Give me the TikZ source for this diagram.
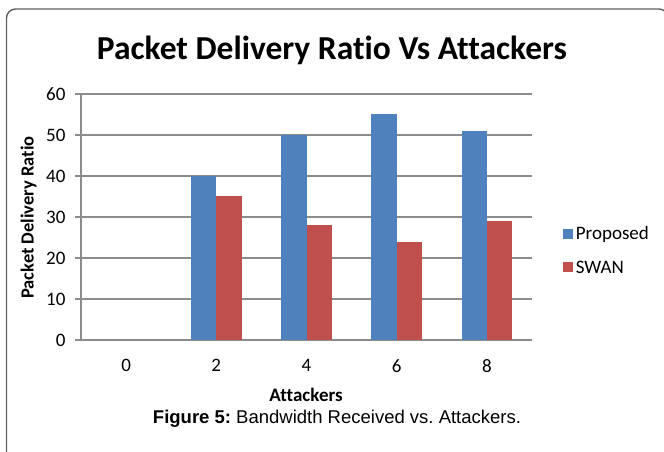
\documentclass[tikz,border=0pt]{standalone}
\usepackage{fontspec}
\setmainfont{Carlito}[Ligatures=CommonOff]
\newfontfamily\arialfont{Liberation Sans}
\usetikzlibrary{positioning}
\definecolor{proposed}{RGB}{79,129,189}
\definecolor{swan}{RGB}{192,80,77}
\definecolor{gitter}{RGB}{140,140,140}
\definecolor{rahmen}{RGB}{95,95,95}
\frenchspacing

\begin{document}
\begin{tikzpicture}[x=1pt, y=1pt, font=\fontsize{19}{22}\selectfont]

    \useasboundingbox (0,0) rectangle (664,452);
    \draw[rahmen, line width=1.4pt, rounded corners=9pt] (6.5,-20) rectangle (668,443);

    \node[font=\fontsize{33.5}{38}\selectfont\bfseries] (titel) at (332,402) {Packet Delivery Ratio Vs Attackers};

    % plot area: origin at (81,112), one category = 90.2, one unit = 4.1
    \begin{scope}[shift={(81,112)}, x=90.2pt, y=4.1pt]
        \foreach \v in {0,10,...,60} {
            \draw[gitter, line width=1.4pt] (-0.066,\v) -- (5,\v);
            \node[left, inner sep=0pt] (y\v) at (-0.17,\v) {\v};
        }
        \draw[gitter, line width=1.4pt] (0,0) -- (0,60);
        \foreach \i/\p/\s in {1/40/35, 2/50/28, 3/55/24, 4/51/29} {
            \fill[proposed] (\i+0.22,0) rectangle (\i+0.5,\p);
            \fill[swan] (\i+0.5,0) rectangle (\i+0.78,\s);
        }
        \foreach \i/\a in {0/0, 1/2, 2/4, 3/6, 4/8}
            \node (x\a) at (\i+0.5,-6.3) {\a};
    \end{scope}

    \node[font=\fontsize{19}{22}\selectfont\bfseries] (xlabel) at (306,57) {Attackers};
    \node[font=\fontsize{18.5}{22}\selectfont\bfseries, rotate=90] (ylabel) at (28.5,234.5) {Packet Delivery Ratio};

    % legend
    \node[fill=proposed, minimum size=10pt, inner sep=0pt] (kp) at (567.5,218) {};
    \node[right=3pt of kp, inner sep=0pt] (lp) {Proposed};
    \node[fill=swan, minimum size=10pt, inner sep=0pt] (ks) at (567.5,185) {};
    \node[right=3pt of ks, inner sep=0pt] (ls) {SWAN};

    \node[font=\arialfont\fontsize{18.5}{22}\selectfont] (caption) at (337,33) {\textbf{Figure 5:} Bandwidth Received vs. Attackers.};

\end{tikzpicture}
\end{document}
